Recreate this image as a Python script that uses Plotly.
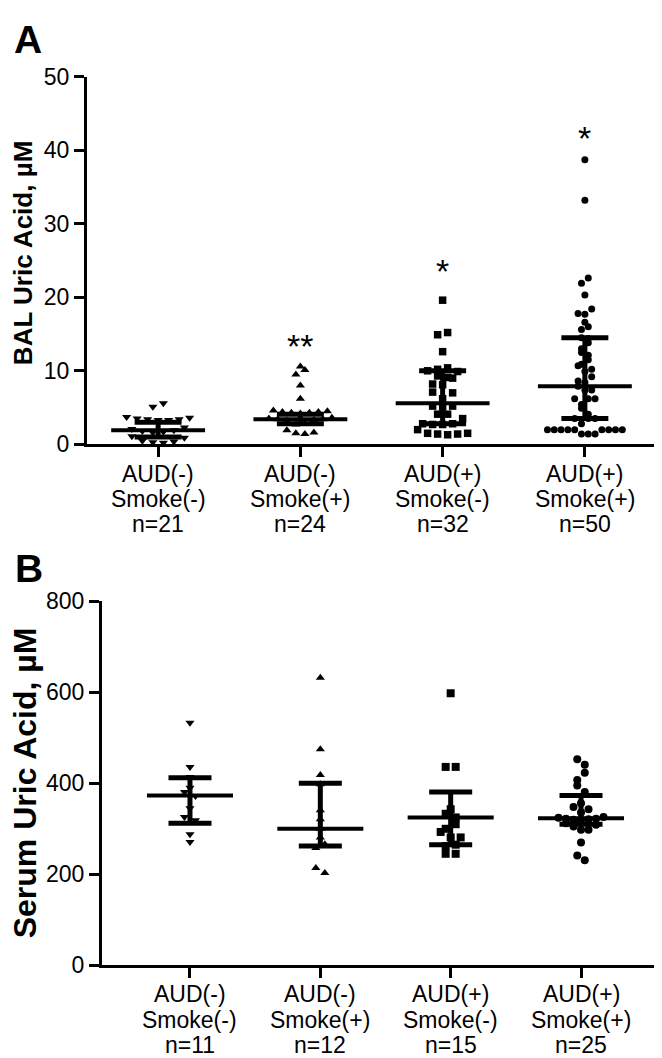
import numpy as np
import plotly.graph_objects as go

W, H = 662, 1058
FONT = "Liberation Sans, Arial, Helvetica, sans-serif"

# ---------------- data ----------------
cat_line1 = ["AUD(-)", "AUD(-)", "AUD(+)", "AUD(+)"]
cat_line2 = ["Smoke(-)", "Smoke(+)", "Smoke(-)", "Smoke(+)"]
n_bal = [21, 24, 32, 50]
n_serum = [11, 12, 15, 25]

bal_g1 = [5.6, 5.1, 3.7, 3.6, 3.5, 3.4, 3.4, 3.3, 3.3, 2.3, 2.1, 1.9, 1.8,
          1.7, 1.6, 1.1, 0.9, 0.5, 0.4, 0.3, 0.2]
bal_g2 = [10.6, 10.1, 9.5, 8.0, 6.2, 4.6, 4.5, 4.4, 4.4, 4.3, 4.3, 4.2, 3.6,
          3.5, 3.4, 3.4, 3.3, 3.2, 2.8, 2.7, 1.9, 1.6, 1.5, 1.4]
bal_g3 = [19.6, 15.2, 14.9, 12.6, 10.4, 10.2, 10.0, 9.9, 9.3, 9.1, 9.0, 8.2,
          8.1, 7.1, 7.0, 6.2, 5.2, 5.2, 5.1, 4.1, 4.1, 3.5, 2.8, 2.8, 2.7,
          2.7, 2.0, 1.5, 1.5, 1.4, 1.4, 1.3]
bal_g4 = [38.7, 33.2, 22.6, 21.9, 20.3, 18.4, 17.8, 17.7, 16.6, 16.0, 15.6,
          14.5, 14.4, 13.8, 13.0, 12.5, 12.1, 11.5, 10.9, 10.7, 10.2, 9.9,
          9.2, 8.6, 8.4, 7.9, 7.4, 7.4, 6.2, 6.2, 6.2, 5.4, 4.9, 4.1, 3.5,
          3.5, 3.5, 2.8, 2.0, 2.0, 2.0, 2.0, 2.0, 2.0, 2.0, 2.0, 2.0, 1.4,
          1.4, 1.4]
bal_median = [1.9, 3.4, 5.6, 7.9]
bal_q1 = [1.0, 2.8, 2.8, 3.5]
bal_q3 = [3.0, 4.1, 10.0, 14.5]
bal_stars = ["", "**", "*", "*"]
bal_star_y = [None, 14.5, 24.6, 42.8]

serum_g1 = [533, 436, 414, 390, 381, 372, 345, 326, 319, 288, 271]
serum_g2 = [632, 475, 418, 398, 341, 321, 300, 281, 266, 258, 214, 203]
serum_g3 = [598, 436, 436, 343, 333, 325, 310, 300, 293, 281, 281, 265, 262,
            245, 245]
serum_g4 = [453, 441, 423, 407, 395, 381, 356, 348, 343, 336, 326, 324, 322,
            322, 321, 320, 319, 312, 309, 305, 298, 298, 270, 241, 231]
serum_median = [373, 300, 325, 323]
serum_q1 = [312, 262, 265, 310]
serum_q3 = [412, 400, 381, 373]

bal_groups = [bal_g1, bal_g2, bal_g3, bal_g4]
serum_groups = [serum_g1, serum_g2, serum_g3, serum_g4]

# ---------------- styling / geometry ----------------
symbols = ["triangle-down", "triangle-up", "square", "circle"]
size_A = [8, 8, 7.5, 7]
size_B = [8, 8, 8, 8]
spacing_A = [10.5, 9, 10, 6.8]   # horizontal spacing of points in a row (px)
spacing_B = [11, 9, 10, 7.5]

A_x0, A_x1, A_ytop, A_ybot = 79, 648, 57, 434
B_x0, B_x1, B_ytop, B_ybot = 94, 661, 595, 968
A_xrange = [-0.5, 3.5]
B_xrange = [-0.675, 3.675]
A_yrange = [0, 50]
B_yrange = [0, 800]


def row_offsets(vals, ppu_x, ppu_y, spacing, row_h):
    """Prism-like scatter: points whose values fall within one row height
    are laid side by side, centred on the category."""
    vals = np.asarray(vals, float)
    order = np.argsort(vals, kind="stable")
    off = np.zeros(len(vals))
    rows, cur, start = [], [], None
    for i in order:
        ypx = vals[i] * ppu_y
        if start is None or ypx - start > row_h:
            if cur:
                rows.append(cur)
            cur, start = [i], ypx
        else:
            cur.append(i)
    if cur:
        rows.append(cur)
    flip = 1
    for r in rows:
        m = len(r)
        pos = [(k - (m - 1) / 2.0) * spacing for k in range(m)]
        pos.sort(key=lambda p: (abs(p), -flip * p))
        flip = -flip
        for idx, p in zip(r, pos):
            off[idx] = p / ppu_x
    return off


fig = go.Figure()


def add_panel(groups, med, q1, q3, xa, ya, sizes, spacings, px_geom, xr, yr):
    x0, x1, ytop, ybot = px_geom
    ppu_x = (x1 - x0) / (xr[1] - xr[0])
    ppu_y = (ybot - ytop) / (yr[1] - yr[0])
    for i, vals in enumerate(groups):
        off = row_offsets(vals, ppu_x, ppu_y, spacings[i], sizes[i] * 0.95)
        fig.add_trace(go.Scatter(
            x=i + off, y=vals, mode="markers", xaxis=xa, yaxis=ya,
            marker=dict(symbol=symbols[i], size=sizes[i], color="black",
                        line=dict(width=0)),
            cliponaxis=False, showlegend=False, hoverinfo="y"))
    mx, my, cx, cy, sx, sy = [], [], [], [], [], []
    for i in range(len(groups)):
        mx += [i - 0.33, i + 0.33, None]
        my += [med[i], med[i], None]
        for q in (q1[i], q3[i]):
            cx += [i - 0.165, i + 0.165, None]
            cy += [q, q, None]
        sx += [i, i, None]
        sy += [q1[i], q3[i], None]
    for xs, ys, w in ((sx, sy, 5), (cx, cy, 5), (mx, my, 4)):
        fig.add_trace(go.Scatter(x=xs, y=ys, mode="lines", xaxis=xa, yaxis=ya,
                                 line=dict(color="black", width=w),
                                 showlegend=False, hoverinfo="skip"))


add_panel(bal_groups, bal_median, bal_q1, bal_q3, "x", "y", size_A, spacing_A,
          (A_x0, A_x1, A_ytop, A_ybot), A_xrange, A_yrange)
add_panel(serum_groups, serum_median, serum_q1, serum_q3, "x2", "y2", size_B,
          spacing_B, (B_x0, B_x1, B_ytop, B_ybot), B_xrange, B_yrange)

axis_common = dict(showline=True, linewidth=3, linecolor="black",
                   ticks="outside", ticklen=10, tickwidth=3, tickcolor="black",
                   showgrid=False, zeroline=False, fixedrange=True,
                   tickfont=dict(family=FONT, size=23, color="black"))

fig.update_layout(
    width=W, height=H, margin=dict(l=0, r=0, t=0, b=0),
    paper_bgcolor="white", plot_bgcolor="white", showlegend=False,
    xaxis=dict(axis_common, domain=[A_x0 / W, A_x1 / W], range=A_xrange,
               tickvals=[0, 1, 2, 3], showticklabels=False, anchor="y"),
    yaxis=dict(axis_common, domain=[1 - A_ybot / H, 1 - A_ytop / H],
               range=A_yrange, tickvals=[0, 10, 20, 30, 40, 50], anchor="x"),
    xaxis2=dict(axis_common, domain=[B_x0 / W, B_x1 / W], range=B_xrange,
                tickvals=[0, 1, 2, 3], showticklabels=False, anchor="y2"),
    yaxis2=dict(axis_common, domain=[1 - B_ybot / H, 1 - B_ytop / H],
                range=B_yrange, tickvals=[0, 200, 400, 600, 800], anchor="x2"),
)

ann = []
for letter, (lx, ly) in (("A", (20, 19)), ("B", (21, 561))):
    ann.append(dict(text=letter, x=lx / W, y=1 - ly / H, xref="paper",
                    yref="paper", showarrow=False, xanchor="center",
                    yanchor="middle",
                    font=dict(family=FONT, size=39, color="black",
                              weight="bold")))
ann.append(dict(text="BAL Uric Acid, µM", x=15 / W, y=1 - 238 / H,
                xref="paper", yref="paper", textangle=-90, showarrow=False,
                xanchor="center", yanchor="middle",
                font=dict(family=FONT, size=26, color="black", weight="bold")))
ann.append(dict(text="Serum Uric Acid, µM", x=17 / W,
                y=1 - (B_ytop + B_ybot) / 2 / H, xref="paper", yref="paper",
                textangle=-90, showarrow=False, xanchor="center",
                yanchor="middle",
                font=dict(family=FONT, size=32, color="black", weight="bold")))
for xa, ybot, ns in (("x", A_ybot, n_bal), ("x2", B_ybot, n_serum)):
    for i in range(4):
        lines = [cat_line1[i], cat_line2[i], f"n={ns[i]}"]
        for j, t in enumerate(lines):
            ann.append(dict(text=t, x=i, xref=xa,
                            y=1 - (ybot + 30 + 26 * j) / H, yref="paper",
                            showarrow=False, xanchor="center",
                            yanchor="middle",
                            font=dict(family=FONT, size=23, color="black")))
for i, s in enumerate(bal_stars):
    if s:
        ann.append(dict(text=s, x=i, y=bal_star_y[i], xref="x", yref="y",
                        showarrow=False, xanchor="center", yanchor="middle",
                        yshift=-8,
                        font=dict(family=FONT, size=34, color="black")))

fig.update_layout(annotations=ann)
fig.write_html("out.html")
